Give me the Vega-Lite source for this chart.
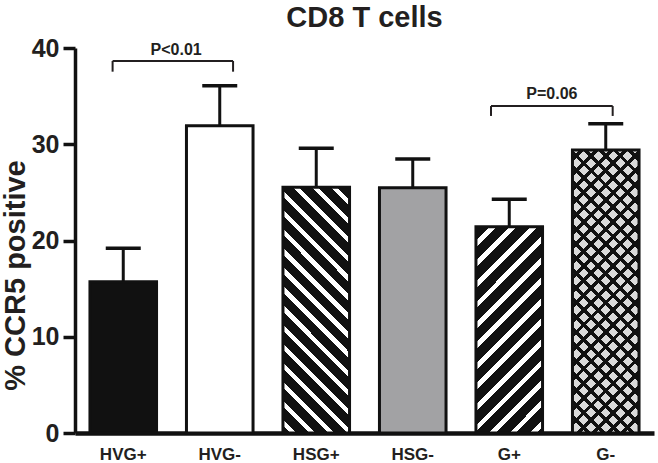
{
  "$schema": "https://vega.github.io/schema/vega-lite/v6.json",
  "width": 579,
  "height": 385,
  "autosize": "none",
  "padding": {"left": 75, "top": 48, "right": 4, "bottom": 30},
  "background": "white",
  "config": {"view": {"stroke": null}},
  "title": {"text": "CD8 T cells", "font": "Liberation Sans", "fontWeight": "bold", "fontSize": 29, "color": "#231f20", "anchor": "middle", "frame": "group", "offset": 3},
  "datasets": {
    "bars": [
      {"group": "HVG+", "value": 15.72, "upper": 19.19},
      {"group": "HVG-", "value": 31.93, "upper": 36.08},
      {"group": "HSG+", "value": 25.53, "upper": 29.58},
      {"group": "HSG-", "value": 25.49, "upper": 28.47},
      {"group": "G+", "value": 21.43, "upper": 24.28},
      {"group": "G-", "value": 29.40, "upper": 32.14}
    ],
    "brackets": [
      {"g1": "HVG+", "g2": "HVG-", "yb": 38.65, "ylo": 37.54, "ty": 39.27, "label": "P<0.01"},
      {"g1": "G+", "g2": "G-", "yb": 33.97, "ylo": 32.94, "ty": 34.67, "label": "P=0.06"}
    ]
  },
  "data": {"name": "bars"},
  "layer": [
    {
      "mark": {"type": "bar"},
      "encoding": {
        "x": {"field": "group", "type": "nominal", "sort": null, "title": null,
          "scale": {"domain": ["HVG+", "HVG-", "HSG+", "HSG-", "G+", "G-"], "paddingInner": 0.31, "paddingOuter": 0.155},
          "axis": {"ticks": false, "domainColor": "#111111", "domainWidth": 4.5, "labelFont": "Liberation Sans", "labelFontWeight": "bold", "labelFontSize": 17, "labelColor": "#231f20", "labelPadding": 13, "labelAngle": 0}},
        "y": {"field": "value", "type": "quantitative", "title": "% CCR5 positive",
          "scale": {"domain": [0, 40], "nice": false},
          "axis": {"values": [0, 10, 20, 30, 40], "grid": false, "domainColor": "#111111", "domainWidth": 3.5, "tickColor": "#111111", "tickWidth": 3.5, "tickSize": 12, "labelFont": "Liberation Sans", "labelFontWeight": "bold", "labelFontSize": 25, "labelColor": "#231f20", "labelPadding": 4, "titleFont": "Liberation Sans", "titleFontWeight": "bold", "titleFontSize": 29, "titleColor": "#231f20", "titlePadding": 1, "titleY": 227}},
        "color": {"field": "group", "type": "nominal", "legend": null,
          "scale": {"domain": ["HVG+", "HVG-", "HSG+", "HSG-", "G+", "G-"], "range": ["#111111", "#ffffff", "#111111", "#a2a2a4", "#111111", "#dadada"]}}
      }
    },
    {
      "transform": [{"filter": "datum.group === 'HSG+'"}],
      "mark": {"type": "bar", "fill": {"gradient": "linear", "x1": 1, "y1": 0, "x2": 0.6786, "y2": 1.1842, "stops": [
        {"offset": 0, "color": "#111111"},
        {"offset": 0.041, "color": "#111111"}, {"offset": 0.041, "color": "#ffffff"}, {"offset": 0.061, "color": "#ffffff"}, {"offset": 0.061, "color": "#111111"},
        {"offset": 0.102, "color": "#111111"}, {"offset": 0.102, "color": "#ffffff"}, {"offset": 0.122, "color": "#ffffff"}, {"offset": 0.122, "color": "#111111"},
        {"offset": 0.163, "color": "#111111"}, {"offset": 0.163, "color": "#ffffff"}, {"offset": 0.183, "color": "#ffffff"}, {"offset": 0.183, "color": "#111111"},
        {"offset": 0.224, "color": "#111111"}, {"offset": 0.224, "color": "#ffffff"}, {"offset": 0.244, "color": "#ffffff"}, {"offset": 0.244, "color": "#111111"},
        {"offset": 0.285, "color": "#111111"}, {"offset": 0.285, "color": "#ffffff"}, {"offset": 0.305, "color": "#ffffff"}, {"offset": 0.305, "color": "#111111"},
        {"offset": 0.346, "color": "#111111"}, {"offset": 0.346, "color": "#ffffff"}, {"offset": 0.366, "color": "#ffffff"}, {"offset": 0.366, "color": "#111111"},
        {"offset": 0.407, "color": "#111111"}, {"offset": 0.407, "color": "#ffffff"}, {"offset": 0.427, "color": "#ffffff"}, {"offset": 0.427, "color": "#111111"},
        {"offset": 0.468, "color": "#111111"}, {"offset": 0.468, "color": "#ffffff"}, {"offset": 0.488, "color": "#ffffff"}, {"offset": 0.488, "color": "#111111"},
        {"offset": 0.529, "color": "#111111"}, {"offset": 0.529, "color": "#ffffff"}, {"offset": 0.549, "color": "#ffffff"}, {"offset": 0.549, "color": "#111111"},
        {"offset": 0.590, "color": "#111111"}, {"offset": 0.590, "color": "#ffffff"}, {"offset": 0.610, "color": "#ffffff"}, {"offset": 0.610, "color": "#111111"},
        {"offset": 0.651, "color": "#111111"}, {"offset": 0.651, "color": "#ffffff"}, {"offset": 0.671, "color": "#ffffff"}, {"offset": 0.671, "color": "#111111"},
        {"offset": 0.712, "color": "#111111"}, {"offset": 0.712, "color": "#ffffff"}, {"offset": 0.732, "color": "#ffffff"}, {"offset": 0.732, "color": "#111111"},
        {"offset": 0.773, "color": "#111111"}, {"offset": 0.773, "color": "#ffffff"}, {"offset": 0.793, "color": "#ffffff"}, {"offset": 0.793, "color": "#111111"},
        {"offset": 0.834, "color": "#111111"}, {"offset": 0.834, "color": "#ffffff"}, {"offset": 0.854, "color": "#ffffff"}, {"offset": 0.854, "color": "#111111"},
        {"offset": 0.895, "color": "#111111"}, {"offset": 0.895, "color": "#ffffff"}, {"offset": 0.915, "color": "#ffffff"}, {"offset": 0.915, "color": "#111111"},
        {"offset": 0.956, "color": "#111111"}, {"offset": 0.956, "color": "#ffffff"}, {"offset": 0.976, "color": "#ffffff"}, {"offset": 0.976, "color": "#111111"},
        {"offset": 1, "color": "#111111"}
      ]}},
      "encoding": {
        "x": {"field": "group", "type": "nominal", "sort": null},
        "y": {"field": "value", "type": "quantitative"}
      }
    },
    {
      "transform": [{"filter": "datum.group === 'G+'"}],
      "mark": {"type": "bar", "fill": {"gradient": "linear", "x1": 0, "y1": 0, "x2": 0.3873, "y2": 1.1981, "stops": [
        {"offset": 0, "color": "#111111"},
        {"offset": 0.050, "color": "#111111"}, {"offset": 0.050, "color": "#ffffff"}, {"offset": 0.075, "color": "#ffffff"}, {"offset": 0.075, "color": "#111111"},
        {"offset": 0.125, "color": "#111111"}, {"offset": 0.125, "color": "#ffffff"}, {"offset": 0.150, "color": "#ffffff"}, {"offset": 0.150, "color": "#111111"},
        {"offset": 0.200, "color": "#111111"}, {"offset": 0.200, "color": "#ffffff"}, {"offset": 0.225, "color": "#ffffff"}, {"offset": 0.225, "color": "#111111"},
        {"offset": 0.276, "color": "#111111"}, {"offset": 0.276, "color": "#ffffff"}, {"offset": 0.301, "color": "#ffffff"}, {"offset": 0.301, "color": "#111111"},
        {"offset": 0.351, "color": "#111111"}, {"offset": 0.351, "color": "#ffffff"}, {"offset": 0.376, "color": "#ffffff"}, {"offset": 0.376, "color": "#111111"},
        {"offset": 0.426, "color": "#111111"}, {"offset": 0.426, "color": "#ffffff"}, {"offset": 0.451, "color": "#ffffff"}, {"offset": 0.451, "color": "#111111"},
        {"offset": 0.501, "color": "#111111"}, {"offset": 0.501, "color": "#ffffff"}, {"offset": 0.526, "color": "#ffffff"}, {"offset": 0.526, "color": "#111111"},
        {"offset": 0.576, "color": "#111111"}, {"offset": 0.576, "color": "#ffffff"}, {"offset": 0.601, "color": "#ffffff"}, {"offset": 0.601, "color": "#111111"},
        {"offset": 0.652, "color": "#111111"}, {"offset": 0.652, "color": "#ffffff"}, {"offset": 0.677, "color": "#ffffff"}, {"offset": 0.677, "color": "#111111"},
        {"offset": 0.727, "color": "#111111"}, {"offset": 0.727, "color": "#ffffff"}, {"offset": 0.752, "color": "#ffffff"}, {"offset": 0.752, "color": "#111111"},
        {"offset": 0.802, "color": "#111111"}, {"offset": 0.802, "color": "#ffffff"}, {"offset": 0.827, "color": "#ffffff"}, {"offset": 0.827, "color": "#111111"},
        {"offset": 0.877, "color": "#111111"}, {"offset": 0.877, "color": "#ffffff"}, {"offset": 0.902, "color": "#ffffff"}, {"offset": 0.902, "color": "#111111"},
        {"offset": 0.952, "color": "#111111"}, {"offset": 0.952, "color": "#ffffff"}, {"offset": 0.977, "color": "#ffffff"}, {"offset": 0.977, "color": "#111111"},
        {"offset": 1, "color": "#111111"}
      ]}},
      "encoding": {
        "x": {"field": "group", "type": "nominal", "sort": null},
        "y": {"field": "value", "type": "quantitative"}
      }
    },
    {
      "transform": [{"filter": "datum.group === 'G-'"}],
      "mark": {"type": "bar", "fill": {"gradient": "linear", "x1": 1, "y1": 0, "x2": 0.7246, "y2": 1.1705, "stops": [
        {"offset": 0, "color": "rgba(0,0,0,0)"},
        {"offset": 0.021, "color": "rgba(0,0,0,0)"}, {"offset": 0.021, "color": "#111111"}, {"offset": 0.035, "color": "#111111"}, {"offset": 0.035, "color": "rgba(0,0,0,0)"},
        {"offset": 0.063, "color": "rgba(0,0,0,0)"}, {"offset": 0.063, "color": "#111111"}, {"offset": 0.077, "color": "#111111"}, {"offset": 0.077, "color": "rgba(0,0,0,0)"},
        {"offset": 0.105, "color": "rgba(0,0,0,0)"}, {"offset": 0.105, "color": "#111111"}, {"offset": 0.119, "color": "#111111"}, {"offset": 0.119, "color": "rgba(0,0,0,0)"},
        {"offset": 0.147, "color": "rgba(0,0,0,0)"}, {"offset": 0.147, "color": "#111111"}, {"offset": 0.161, "color": "#111111"}, {"offset": 0.161, "color": "rgba(0,0,0,0)"},
        {"offset": 0.189, "color": "rgba(0,0,0,0)"}, {"offset": 0.189, "color": "#111111"}, {"offset": 0.203, "color": "#111111"}, {"offset": 0.203, "color": "rgba(0,0,0,0)"},
        {"offset": 0.231, "color": "rgba(0,0,0,0)"}, {"offset": 0.231, "color": "#111111"}, {"offset": 0.245, "color": "#111111"}, {"offset": 0.245, "color": "rgba(0,0,0,0)"},
        {"offset": 0.273, "color": "rgba(0,0,0,0)"}, {"offset": 0.273, "color": "#111111"}, {"offset": 0.287, "color": "#111111"}, {"offset": 0.287, "color": "rgba(0,0,0,0)"},
        {"offset": 0.315, "color": "rgba(0,0,0,0)"}, {"offset": 0.315, "color": "#111111"}, {"offset": 0.329, "color": "#111111"}, {"offset": 0.329, "color": "rgba(0,0,0,0)"},
        {"offset": 0.357, "color": "rgba(0,0,0,0)"}, {"offset": 0.357, "color": "#111111"}, {"offset": 0.371, "color": "#111111"}, {"offset": 0.371, "color": "rgba(0,0,0,0)"},
        {"offset": 0.399, "color": "rgba(0,0,0,0)"}, {"offset": 0.399, "color": "#111111"}, {"offset": 0.413, "color": "#111111"}, {"offset": 0.413, "color": "rgba(0,0,0,0)"},
        {"offset": 0.441, "color": "rgba(0,0,0,0)"}, {"offset": 0.441, "color": "#111111"}, {"offset": 0.455, "color": "#111111"}, {"offset": 0.455, "color": "rgba(0,0,0,0)"},
        {"offset": 0.483, "color": "rgba(0,0,0,0)"}, {"offset": 0.483, "color": "#111111"}, {"offset": 0.497, "color": "#111111"}, {"offset": 0.497, "color": "rgba(0,0,0,0)"},
        {"offset": 0.525, "color": "rgba(0,0,0,0)"}, {"offset": 0.525, "color": "#111111"}, {"offset": 0.539, "color": "#111111"}, {"offset": 0.539, "color": "rgba(0,0,0,0)"},
        {"offset": 0.567, "color": "rgba(0,0,0,0)"}, {"offset": 0.567, "color": "#111111"}, {"offset": 0.581, "color": "#111111"}, {"offset": 0.581, "color": "rgba(0,0,0,0)"},
        {"offset": 0.609, "color": "rgba(0,0,0,0)"}, {"offset": 0.609, "color": "#111111"}, {"offset": 0.623, "color": "#111111"}, {"offset": 0.623, "color": "rgba(0,0,0,0)"},
        {"offset": 0.651, "color": "rgba(0,0,0,0)"}, {"offset": 0.651, "color": "#111111"}, {"offset": 0.665, "color": "#111111"}, {"offset": 0.665, "color": "rgba(0,0,0,0)"},
        {"offset": 0.693, "color": "rgba(0,0,0,0)"}, {"offset": 0.693, "color": "#111111"}, {"offset": 0.707, "color": "#111111"}, {"offset": 0.707, "color": "rgba(0,0,0,0)"},
        {"offset": 0.735, "color": "rgba(0,0,0,0)"}, {"offset": 0.735, "color": "#111111"}, {"offset": 0.749, "color": "#111111"}, {"offset": 0.749, "color": "rgba(0,0,0,0)"},
        {"offset": 0.777, "color": "rgba(0,0,0,0)"}, {"offset": 0.777, "color": "#111111"}, {"offset": 0.791, "color": "#111111"}, {"offset": 0.791, "color": "rgba(0,0,0,0)"},
        {"offset": 0.819, "color": "rgba(0,0,0,0)"}, {"offset": 0.819, "color": "#111111"}, {"offset": 0.833, "color": "#111111"}, {"offset": 0.833, "color": "rgba(0,0,0,0)"},
        {"offset": 0.861, "color": "rgba(0,0,0,0)"}, {"offset": 0.861, "color": "#111111"}, {"offset": 0.875, "color": "#111111"}, {"offset": 0.875, "color": "rgba(0,0,0,0)"},
        {"offset": 0.903, "color": "rgba(0,0,0,0)"}, {"offset": 0.903, "color": "#111111"}, {"offset": 0.917, "color": "#111111"}, {"offset": 0.917, "color": "rgba(0,0,0,0)"},
        {"offset": 0.945, "color": "rgba(0,0,0,0)"}, {"offset": 0.945, "color": "#111111"}, {"offset": 0.959, "color": "#111111"}, {"offset": 0.959, "color": "rgba(0,0,0,0)"},
        {"offset": 1, "color": "rgba(0,0,0,0)"}
      ]}},
      "encoding": {
        "x": {"field": "group", "type": "nominal", "sort": null},
        "y": {"field": "value", "type": "quantitative"}
      }
    },
    {
      "transform": [{"filter": "datum.group === 'G-'"}],
      "mark": {"type": "bar", "fill": {"gradient": "linear", "x1": 0, "y1": 0, "x2": 0.2754, "y2": 1.1705, "stops": [
        {"offset": 0, "color": "rgba(0,0,0,0)"},
        {"offset": 0.021, "color": "rgba(0,0,0,0)"}, {"offset": 0.021, "color": "#111111"}, {"offset": 0.035, "color": "#111111"}, {"offset": 0.035, "color": "rgba(0,0,0,0)"},
        {"offset": 0.063, "color": "rgba(0,0,0,0)"}, {"offset": 0.063, "color": "#111111"}, {"offset": 0.077, "color": "#111111"}, {"offset": 0.077, "color": "rgba(0,0,0,0)"},
        {"offset": 0.105, "color": "rgba(0,0,0,0)"}, {"offset": 0.105, "color": "#111111"}, {"offset": 0.119, "color": "#111111"}, {"offset": 0.119, "color": "rgba(0,0,0,0)"},
        {"offset": 0.147, "color": "rgba(0,0,0,0)"}, {"offset": 0.147, "color": "#111111"}, {"offset": 0.161, "color": "#111111"}, {"offset": 0.161, "color": "rgba(0,0,0,0)"},
        {"offset": 0.189, "color": "rgba(0,0,0,0)"}, {"offset": 0.189, "color": "#111111"}, {"offset": 0.203, "color": "#111111"}, {"offset": 0.203, "color": "rgba(0,0,0,0)"},
        {"offset": 0.231, "color": "rgba(0,0,0,0)"}, {"offset": 0.231, "color": "#111111"}, {"offset": 0.245, "color": "#111111"}, {"offset": 0.245, "color": "rgba(0,0,0,0)"},
        {"offset": 0.273, "color": "rgba(0,0,0,0)"}, {"offset": 0.273, "color": "#111111"}, {"offset": 0.287, "color": "#111111"}, {"offset": 0.287, "color": "rgba(0,0,0,0)"},
        {"offset": 0.315, "color": "rgba(0,0,0,0)"}, {"offset": 0.315, "color": "#111111"}, {"offset": 0.329, "color": "#111111"}, {"offset": 0.329, "color": "rgba(0,0,0,0)"},
        {"offset": 0.357, "color": "rgba(0,0,0,0)"}, {"offset": 0.357, "color": "#111111"}, {"offset": 0.371, "color": "#111111"}, {"offset": 0.371, "color": "rgba(0,0,0,0)"},
        {"offset": 0.399, "color": "rgba(0,0,0,0)"}, {"offset": 0.399, "color": "#111111"}, {"offset": 0.413, "color": "#111111"}, {"offset": 0.413, "color": "rgba(0,0,0,0)"},
        {"offset": 0.441, "color": "rgba(0,0,0,0)"}, {"offset": 0.441, "color": "#111111"}, {"offset": 0.455, "color": "#111111"}, {"offset": 0.455, "color": "rgba(0,0,0,0)"},
        {"offset": 0.483, "color": "rgba(0,0,0,0)"}, {"offset": 0.483, "color": "#111111"}, {"offset": 0.497, "color": "#111111"}, {"offset": 0.497, "color": "rgba(0,0,0,0)"},
        {"offset": 0.525, "color": "rgba(0,0,0,0)"}, {"offset": 0.525, "color": "#111111"}, {"offset": 0.539, "color": "#111111"}, {"offset": 0.539, "color": "rgba(0,0,0,0)"},
        {"offset": 0.567, "color": "rgba(0,0,0,0)"}, {"offset": 0.567, "color": "#111111"}, {"offset": 0.581, "color": "#111111"}, {"offset": 0.581, "color": "rgba(0,0,0,0)"},
        {"offset": 0.609, "color": "rgba(0,0,0,0)"}, {"offset": 0.609, "color": "#111111"}, {"offset": 0.623, "color": "#111111"}, {"offset": 0.623, "color": "rgba(0,0,0,0)"},
        {"offset": 0.651, "color": "rgba(0,0,0,0)"}, {"offset": 0.651, "color": "#111111"}, {"offset": 0.665, "color": "#111111"}, {"offset": 0.665, "color": "rgba(0,0,0,0)"},
        {"offset": 0.693, "color": "rgba(0,0,0,0)"}, {"offset": 0.693, "color": "#111111"}, {"offset": 0.707, "color": "#111111"}, {"offset": 0.707, "color": "rgba(0,0,0,0)"},
        {"offset": 0.735, "color": "rgba(0,0,0,0)"}, {"offset": 0.735, "color": "#111111"}, {"offset": 0.749, "color": "#111111"}, {"offset": 0.749, "color": "rgba(0,0,0,0)"},
        {"offset": 0.777, "color": "rgba(0,0,0,0)"}, {"offset": 0.777, "color": "#111111"}, {"offset": 0.791, "color": "#111111"}, {"offset": 0.791, "color": "rgba(0,0,0,0)"},
        {"offset": 0.819, "color": "rgba(0,0,0,0)"}, {"offset": 0.819, "color": "#111111"}, {"offset": 0.833, "color": "#111111"}, {"offset": 0.833, "color": "rgba(0,0,0,0)"},
        {"offset": 0.861, "color": "rgba(0,0,0,0)"}, {"offset": 0.861, "color": "#111111"}, {"offset": 0.875, "color": "#111111"}, {"offset": 0.875, "color": "rgba(0,0,0,0)"},
        {"offset": 0.903, "color": "rgba(0,0,0,0)"}, {"offset": 0.903, "color": "#111111"}, {"offset": 0.917, "color": "#111111"}, {"offset": 0.917, "color": "rgba(0,0,0,0)"},
        {"offset": 0.945, "color": "rgba(0,0,0,0)"}, {"offset": 0.945, "color": "#111111"}, {"offset": 0.959, "color": "#111111"}, {"offset": 0.959, "color": "rgba(0,0,0,0)"},
        {"offset": 1, "color": "rgba(0,0,0,0)"}
      ]}},
      "encoding": {
        "x": {"field": "group", "type": "nominal", "sort": null},
        "y": {"field": "value", "type": "quantitative"}
      }
    },
    {
      "mark": {"type": "bar", "fill": "transparent", "stroke": "#111111", "strokeWidth": 3},
      "encoding": {
        "x": {"field": "group", "type": "nominal", "sort": null},
        "y": {"field": "value", "type": "quantitative"}
      }
    },
    {
      "mark": {"type": "rule", "color": "#111111", "strokeWidth": 3},
      "encoding": {
        "x": {"field": "group", "type": "nominal", "sort": null},
        "y": {"field": "value", "type": "quantitative"},
        "y2": {"field": "upper"}
      }
    },
    {
      "mark": {"type": "tick", "color": "#111111", "size": 35, "thickness": 3.5, "opacity": 1},
      "encoding": {
        "x": {"field": "group", "type": "nominal", "sort": null},
        "y": {"field": "upper", "type": "quantitative"}
      }
    },
    {
      "data": {"name": "brackets"},
      "transform": [{"filter": "datum.label === 'P<0.01'"}],
      "layer": [
        {
          "mark": {"type": "rule", "color": "#231f20", "strokeWidth": 2},
          "encoding": {
            "x": {"field": "g1", "type": "nominal", "bandPosition": 0.34},
            "x2": {"field": "g2", "bandPosition": 0.7},
            "y": {"field": "yb", "type": "quantitative"}
          }
        },
        {
          "mark": {"type": "rule", "color": "#231f20", "strokeWidth": 2},
          "encoding": {
            "x": {"field": "g1", "type": "nominal", "bandPosition": 0.34},
            "y": {"field": "ylo", "type": "quantitative"},
            "y2": {"field": "yb"}
          }
        },
        {
          "mark": {"type": "rule", "color": "#231f20", "strokeWidth": 2},
          "encoding": {
            "x": {"field": "g2", "type": "nominal", "bandPosition": 0.7},
            "y": {"field": "ylo", "type": "quantitative"},
            "y2": {"field": "yb"}
          }
        },
        {
          "mark": {"type": "text", "font": "Liberation Sans", "fontWeight": "bold", "fontSize": 16, "color": "#231f20", "align": "center", "baseline": "alphabetic"},
          "encoding": {
            "x": {"field": "g1", "type": "nominal", "bandPosition": 1.295},
            "y": {"field": "ty", "type": "quantitative"},
            "text": {"field": "label"}
          }
        }
      ]
    },
    {
      "data": {"name": "brackets"},
      "transform": [{"filter": "datum.label === 'P=0.06'"}],
      "layer": [
        {
          "mark": {"type": "rule", "color": "#231f20", "strokeWidth": 2},
          "encoding": {
            "x": {"field": "g1", "type": "nominal", "bandPosition": 0.226},
            "x2": {"field": "g2", "bandPosition": 0.604},
            "y": {"field": "yb", "type": "quantitative"}
          }
        },
        {
          "mark": {"type": "rule", "color": "#231f20", "strokeWidth": 2},
          "encoding": {
            "x": {"field": "g1", "type": "nominal", "bandPosition": 0.226},
            "y": {"field": "ylo", "type": "quantitative"},
            "y2": {"field": "yb"}
          }
        },
        {
          "mark": {"type": "rule", "color": "#231f20", "strokeWidth": 2},
          "encoding": {
            "x": {"field": "g2", "type": "nominal", "bandPosition": 0.604},
            "y": {"field": "ylo", "type": "quantitative"},
            "y2": {"field": "yb"}
          }
        },
        {
          "mark": {"type": "text", "font": "Liberation Sans", "fontWeight": "bold", "fontSize": 16, "color": "#231f20", "align": "center", "baseline": "alphabetic"},
          "encoding": {
            "x": {"field": "g1", "type": "nominal", "bandPosition": 1.14},
            "y": {"field": "ty", "type": "quantitative"},
            "text": {"field": "label"}
          }
        }
      ]
    }
  ]
}
